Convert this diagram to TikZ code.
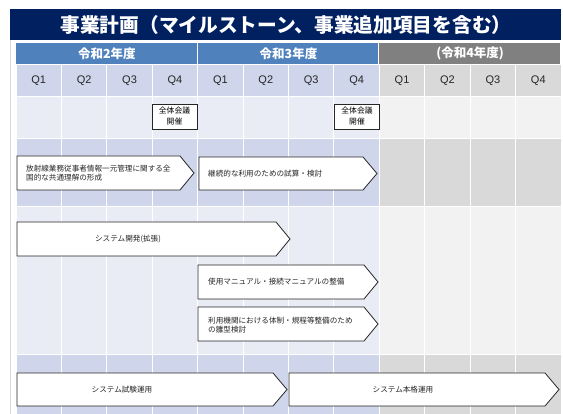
\documentclass[tikz,border=0pt]{standalone}
\usepackage{fontspec}
\setmainfont{Noto Sans CJK JP}
\newfontfamily\qfont{Liberation Sans}
\definecolor{figNavy}{HTML}{002060}
\definecolor{figBlue}{HTML}{4F81BD}
\definecolor{figGray}{HTML}{808080}
\definecolor{figBlueDk}{HTML}{CFD5EA}
\definecolor{figBlueLt}{HTML}{E9EBF5}
\definecolor{figGrayDk}{HTML}{D9D9D9}
\definecolor{figGrayLt}{HTML}{F2F2F2}
\tikzset{
  cell/.style={draw=white,line width=1pt},
  chev/.style={draw=black!85,fill=white,line width=0.8pt,line join=miter},
  chevtxt/.style={font=\fontsize{7.6}{9}\selectfont,text=black!85,inner sep=0pt},
  mile/.style={draw=black!85,fill=white,line width=0.9pt,minimum width=45pt,
    minimum height=25pt,align=center,inner sep=0pt,font=\fontsize{7.8}{11}\selectfont},
}
% pentagon arrow: left x, tip x, top y, bottom y
\newcommand\chevron[4]{%
  \draw[chev] (#1,#3) -- ({#2-14},#3) -- (#2,{(#3+#4)/2}) -- ({#2-14},#4) -- (#1,#4) -- cycle;}

\begin{document}
\begin{tikzpicture}[x=1pt,y=-1pt]
\useasboundingbox (0,0) rectangle (563,414);
\fill[white] (0,0) rectangle (563,414);
\draw[gray!30] (10.5,40) -- (10.5,414);
% Title
\fill[figNavy] (10,9) rectangle (561,40);
\node[text=white,font=\fontsize{19.7}{19.7}\selectfont\bfseries] (title) at (286,25)
  {事業計画（マイルストーン、事業追加項目を含む）};
% Fiscal years
\foreach \i/\c/\t in {0/figBlue/令和2年度,1/figBlue/令和3年度,2/figGray/(令和4年度)}{
  \fill[\c] ({16+\i*181.67},43) rectangle ({16+(\i+1)*181.67-1},64);
  \node[text=white,font=\fontsize{12.5}{12.5}\selectfont\bfseries] (yr\i)
    at ({16+(\i+0.5)*181.67},53.5) {\t};
}
% Quarters and rows
\foreach \j in {0,...,11}{
  \ifnum\j<8 \def\fam{Blue}\else \def\fam{Gray}\fi
  \pgfmathtruncatemacro\q{mod(\j,4)+1}
  \draw[cell,fill=fig\fam Dk] ({16+\j*45.42},65) rectangle ({16+(\j+1)*45.42},97);
  \node[font=\qfont\fontsize{11}{11}\selectfont,text=black!85] (q\j)
    at ({16+(\j+0.5)*45.42},81) {Q\q};
  \foreach \ya/\yb/\k in {97/139/Lt,139/207/Dk,207/355/Lt,355/418/Dk}
    \draw[cell,fill=fig\fam\k] ({16+\j*45.42},\ya) rectangle ({16+(\j+1)*45.42},\yb);
}
% Milestones
\node[mile] (meet1) at (174.5,116.5) {全体会議\\開催};
\node[mile] (meet2) at (357,116.5) {全体会議\\開催};
% Tasks
\chevron{17}{194}{156}{190}
\node[chevtxt,anchor=west,align=left] (task1) at (26,173)
  {放射線業務従事者情報一元管理に関する全\\国的な共通理解の形成};
\chevron{199}{377}{157}{190}
\node[chevtxt,anchor=west] (task2) at (208,173.5) {継続的な利用のための試算・検討};
\chevron{17}{290}{222}{256}
\node[chevtxt] (task3) at (128,239) {システム開発(拡張)};
\chevron{198}{378}{265}{299}
\node[chevtxt,anchor=west] (task4) at (208,282) {使用マニュアル・接続マニュアルの整備};
\chevron{198}{378}{307}{341}
\node[chevtxt,anchor=west,align=left] (task5) at (208,325)
  {利用機関における体制・規程等整備のため\\の雛型検討};
\chevron{17}{287}{373}{406}
\node[chevtxt] (task6) at (122,389.5) {システム試験運用};
\chevron{289}{559}{373}{406}
\node[chevtxt] (task7) at (403,389.5) {システム本格運用};
\end{tikzpicture}
\end{document}
